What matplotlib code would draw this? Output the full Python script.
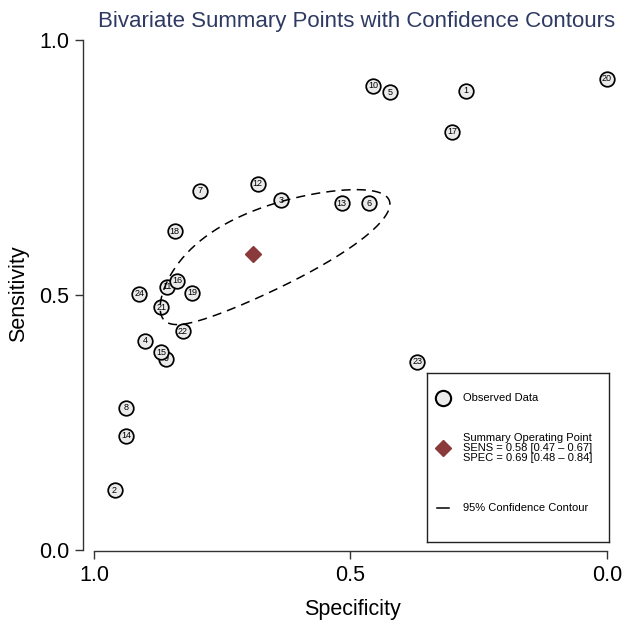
import numpy as np
import matplotlib
matplotlib.use('Agg')
import matplotlib.pyplot as plt

plt.rcParams['font.family'] = ['Liberation Sans', 'DejaVu Sans']

# observed studies
study = list(range(1, 25))
spec = [0.275, 0.960, 0.635, 0.900, 0.423, 0.464, 0.793, 0.937, 0.860, 0.456,
        0.857, 0.681, 0.517, 0.937, 0.869, 0.838, 0.302, 0.843, 0.809, 0.001,
        0.869, 0.827, 0.370, 0.912]
sens = [0.900, 0.117, 0.686, 0.410, 0.898, 0.680, 0.704, 0.279, 0.375, 0.910,
        0.516, 0.718, 0.680, 0.224, 0.388, 0.528, 0.820, 0.625, 0.504, 0.924,
        0.476, 0.429, 0.369, 0.502]

# summary operating point
sum_sens, sens_ci = 0.58, (0.47, 0.67)
sum_spec, spec_ci = 0.69, (0.48, 0.84)

# confidence contour in logit space (half extents + correlation)
ext_fpr = 1.11
ext_sens = 0.556
rho = 0.76

grey_fill = '#EBEBEB'
diamond_col = '#8B3A3C'
axis_col = '#333333'


def logit(p):
    return np.log(p / (1 - p))


def expit(z):
    return 1 / (1 + np.exp(-z))


W, H = 630, 620
fig = plt.figure(figsize=(W / 100, H / 100), dpi=100)
ax = fig.add_axes([83 / W, 1 - 551 / H, (W - 83) / W, (551 - 40) / H])
ax.set_xlim(1.0214, -0.0448)
ax.set_ylim(-0.002, 1.0)

for k in range(len(study)):
    z = 3 + k * 0.01
    ax.plot(spec[k], sens[k], 'o', ms=10.5, mfc=grey_fill, mec='black', mew=1.25,
            zorder=z, clip_on=False)
    ax.text(spec[k], sens[k], str(study[k]), fontsize=6.5, ha='center',
            va='center', zorder=z + 0.005)

t = np.linspace(0, 2 * np.pi, 400)
cx, cy = logit(1 - sum_spec), logit(sum_sens)
lx = cx + ext_fpr * np.cos(t)
ly = cy + ext_sens * (rho * np.cos(t) + np.sqrt(1 - rho ** 2) * np.sin(t))
ax.plot(1 - expit(lx), expit(ly), color='black', lw=1.1, dashes=(6, 4), zorder=4)

ax.plot(sum_spec, sum_sens, 'D', ms=8, color=diamond_col, zorder=5)

for s in ['top', 'right']:
    ax.spines[s].set_visible(False)
ax.spines['left'].set_bounds(0, 1)
ax.spines['bottom'].set_bounds(0, 1)
for s in ['left', 'bottom']:
    ax.spines[s].set_color(axis_col)
    ax.spines[s].set_linewidth(1)

ax.set_xticks([1.0, 0.5, 0.0])
ax.set_xticklabels(['1.0', '0.5', '0.0'])
ax.set_yticks([0.0, 0.5, 1.0])
ax.set_yticklabels(['0.0', '0.5', '1.0'])
ax.tick_params(direction='out', length=5.8, width=1, color=axis_col, pad=4.3,
               labelsize=15.5)

ax.set_title('Bivariate Summary Points with Confidence Contours', fontsize=16,
             color='#2E3A63', pad=9.4)
ax.set_xlabel('Specificity', fontsize=15.5, va='baseline')
ax.xaxis.set_label_coords(0.493, -0.125)
ax.set_ylabel('Sensitivity', fontsize=15.5, va='center')
ax.yaxis.set_label_coords(-0.117, 0.503)

# legend box
lg = fig.add_axes([427 / W, 1 - 542 / H, 182 / W, 169 / H])
lg.set_xlim(0, 182)
lg.set_ylim(169, 0)
lg.set_xticks([])
lg.set_yticks([])
for s in lg.spines.values():
    s.set_color('#222222')
    s.set_linewidth(1)

lg.plot(16, 25, 'o', ms=11, mfc=grey_fill, mec='black', mew=1.5)
lg.text(36, 25, 'Observed Data', fontsize=8, va='center')
lg.plot(16, 75, 'D', ms=8, color=diamond_col)
lg.text(36, 75, 'Summary Operating Point\n'
        f'SENS = {sum_sens:.2f} [{sens_ci[0]:.2f} \u2013 {sens_ci[1]:.2f}]\n'
        f'SPEC = {sum_spec:.2f} [{spec_ci[0]:.2f} \u2013 {spec_ci[1]:.2f}]',
        fontsize=8, va='center', linespacing=1.0)
lg.plot([10, 22], [135, 135], color='black', lw=1.1)
lg.text(36, 135, '95% Confidence Contour', fontsize=8, va='center')

fig.savefig('out.png', dpi=100)
